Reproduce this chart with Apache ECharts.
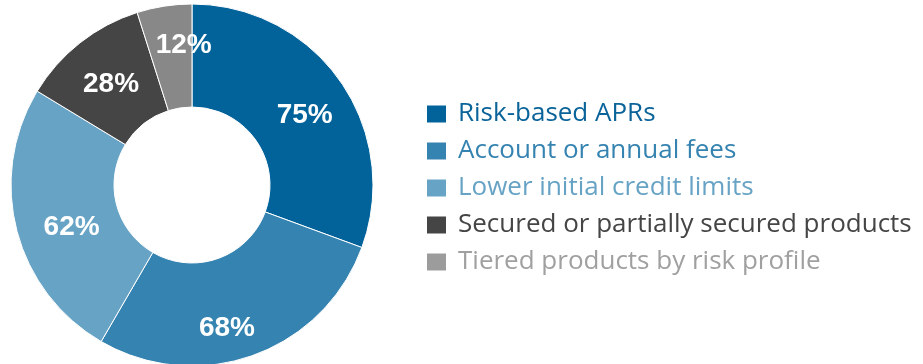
<!DOCTYPE html>
<html>
<head>
<meta charset="utf-8">
<script src="https://cdn.jsdelivr.net/npm/echarts@6/dist/echarts.min.js"></script>
<style>
  html, body { margin: 0; padding: 0; background: #fff; }
  #chart { width: 923px; height: 364px; }
</style>
</head>
<body>
<div id="chart"></div>
<script>
// Share of issuers using each risk-management practice
const categories = [
  'Risk-based APRs',
  'Account or annual fees',
  'Lower initial credit limits',
  'Secured or partially secured products',
  'Tiered products by risk profile'
];
const values = [75, 68, 62, 28, 12];
const sliceColors = ['#02639b', '#3583b0', '#67a3c5', '#454545', '#888888'];
const legendTextColors = ['#0a6399', '#3583b0', '#67a3c5', '#454545', '#a0a0a0'];
const legendIconColors = ['#02639b', '#3583b0', '#67a3c5', '#454545', '#9c9c9c'];
// Small nudges so each percentage sits where it reads best within its wedge
const labelNudges = [[4, 6], [-10, 19], [8, 9], [1, 3], [12, -9]];

const chart = echarts.init(document.getElementById('chart'), null, { renderer: 'canvas' });

chart.setOption({
  animation: false,
  backgroundColor: '#ffffff',
  legend: {
    orient: 'vertical',
    left: 420,
    top: 96,
    icon: 'rect',
    itemWidth: 21,
    itemHeight: 19,
    itemGap: 11,
    selectedMode: false,
    textStyle: {
      fontFamily: 'Open Sans',
      fontSize: 26,
      padding: [0, 0, 0, 6]
    },
    data: categories.map((name, i) => ({
      name,
      itemStyle: { color: legendIconColors[i] },
      textStyle: { color: legendTextColors[i] }
    }))
  },
  series: [{
    type: 'pie',
    center: [192, 185],
    radius: [78, 181],
    startAngle: 90,
    clockwise: true,
    silent: true,
    itemStyle: { borderColor: '#ffffff', borderWidth: 1 },
    label: {
      show: true,
      position: 'inside',
      formatter: '{c}%',
      color: '#ffffff',
      fontFamily: 'Liberation Sans',
      fontWeight: 'bold',
      fontSize: 28
    },
    labelLine: { show: false },
    data: categories.map((name, i) => ({
      name,
      value: values[i],
      itemStyle: { color: sliceColors[i] },
      label: { offset: labelNudges[i] }
    }))
  }]
});
</script>
</body>
</html>
